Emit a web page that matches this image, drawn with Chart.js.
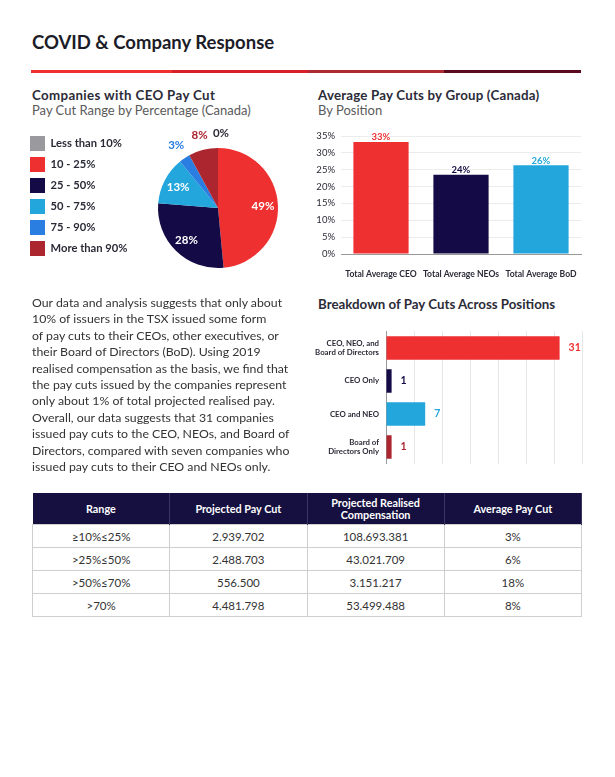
<!DOCTYPE html>
<html>
<head>
<meta charset="utf-8">
<script src="https://cdn.jsdelivr.net/npm/chart.js@4.4.0/dist/chart.umd.min.js"></script>
<style>
    body { margin: 0; background: #fff; font-family: Lato, sans-serif; color: #2b2b38; }
    .page { position: relative; width: 615px; height: 777px; overflow: hidden; }
    .abs { position: absolute; }
    h1 { position: absolute; left: 32px; top: 31px; margin: 0; font-size: 18.5px; font-weight: 700; color: #1c1c28; }
    .rule { position: absolute; left: 31px; top: 70px; width: 550px; height: 3px;
        background: linear-gradient(to right, #ee3030 0, #ee3030 141px, #d7202a 141px, #d7202a 277px, #ae2a32 277px, #ae2a32 413px, #5a0a1e 413px); }
    .head { font-size: 13.3px; font-weight: 700; margin: 0; color: #2b2b38; letter-spacing: 0.2px; line-height: 16px; }
    .sub { font-size: 13px; color: #5a5a5a; margin: 0; line-height: 15px; }
    .para { left: 32px; top: 295px; width: 275px; font-size: 12.3px; line-height: 16.4px; color: #333; }
    table { position: absolute; left: 32px; top: 493px; width: 550px; border-collapse: collapse; table-layout: fixed; }
    th { background: #15103f; color: #fff; font-size: 10.8px; font-weight: 700; height: 31px; padding: 0 4px; line-height: 12px; border-right: 1px solid #3a3560; }
    td { text-align: center; font-size: 11.5px; color: #333; height: 22px; padding: 0; border: 1px solid #cfcfcf; }
</style>
</head>
<body>
<div class="page">
    <h1>COVID &amp; Company Response</h1>
    <div class="rule"></div>

    <div class="abs" style="left:32px; top:87px;">
        <p class="head" style="letter-spacing:0.35px;">Companies with CEO Pay Cut</p>
        <p class="sub">Pay Cut Range by Percentage (Canada)</p>
    </div>
    <div class="abs" style="left:318px; top:87px;">
        <p class="head">Average Pay Cuts by Group (Canada)</p>
        <p class="sub">By Position</p>
    </div>
    <div class="abs" style="left:318px; top:296px;">
        <p class="head" style="letter-spacing:0;">Breakdown of Pay Cuts Across Positions</p>
    </div>

    <canvas id="pieChart" class="abs" style="left:24px; top:120px;" width="276" height="166"></canvas>
    <canvas id="groupChart" class="abs" style="left:300px; top:120px;" width="290" height="160"></canvas>
    <canvas id="breakdownChart" class="abs" style="left:300px; top:315px;" width="290" height="165"></canvas>

    <div class="abs para">
        Our data and analysis suggests that only about<br>
        10% of issuers in the TSX issued some form<br>
        of pay cuts to their CEOs, other executives, or<br>
        their Board of Directors (BoD). Using 2019<br>
        realised compensation as the basis, we find that<br>
        the pay cuts issued by the companies represent<br>
        only about 1% of total projected realised pay.<br>
        Overall, our data suggests that 31 companies<br>
        issued pay cuts to the CEO, NEOs, and Board of<br>
        Directors, compared with seven companies who<br>
        issued pay cuts to their CEO and NEOs only.
    </div>

    <table id="payTable"></table>
</div>

<script>
// pie
const rangeLabels = ['Less than 10%', '10 - 25%', '25 - 50%', '50 - 75%', '75 - 90%', 'More than 90%'];
const rangeShares = [0, 49, 28, 13, 3, 8];
const rangeColors = ['#9a9a9e', '#ee3030', '#140a46', '#22a6dc', '#2a7de1', '#ac2630'];

// group bars
const groupLabels = ['Total Average CEO', 'Total Average NEOs', 'Total Average BoD'];
const groupCuts = [33.2, 23.5, 26.3];
const groupColors = ['#ee3030', '#140a46', '#22a6dc'];
const groupTicks = [0, 5, 10, 15, 20, 25, 30, 35];

// breakdown bars
const positionLabels = [['CEO, NEO, and', 'Board of Directors'], 'CEO Only', 'CEO and NEO', ['Board of', 'Directors Only']];
const positionCounts = [31, 1, 7, 1];
const positionColors = ['#ee3030', '#140a46', '#22a6dc', '#ac2630'];

// table
const tableHeader = ['Range', 'Projected Pay Cut', 'Projected Realised<br>Compensation', 'Average Pay Cut'];
const tableRanges = ['≥10%≤25%', '>25%≤50%', '>50%≤70%', '>70%'];
const tablePayCut = ['2.939.702', '2.488.703', '556.500', '4.481.798'];
const tableRealised = ['108.693.381', '43.021.709', '3.151.217', '53.499.488'];
const tableAvgCut = ['3%', '6%', '18%', '8%'];

Chart.defaults.font.family = 'Lato, sans-serif';
Chart.defaults.animation = false;

// labels on pie slices
const pieLabels = {
    id: 'pieLabels',
    afterDatasetsDraw(chart) {
        const ctx = chart.ctx;
        const meta = chart.getDatasetMeta(0);
        ctx.save();
        ctx.font = 'bold 11.5px Lato, sans-serif';
        ctx.textAlign = 'center';
        ctx.textBaseline = 'middle';
        meta.data.forEach((arc, i) => {
            const val = rangeShares[i];
            const mid = (arc.startAngle + arc.endAngle) / 2;
            const inside = val >= 10;
            const r = inside ? arc.outerRadius * 0.75 : arc.outerRadius + 15;
            let x = arc.x + Math.cos(mid) * r;
            if (val === 0) x += 3;
            ctx.fillStyle = inside ? '#fff' : (val === 0 ? '#2b2b38' : rangeColors[i]);
            ctx.fillText(val + '%', x, arc.y + Math.sin(mid) * r);
        });
        ctx.restore();
    }
};

// wider legend so the pie sits right of it
const legendWidth = {
    id: 'legendWidth',
    beforeInit(chart) {
        const fit = chart.legend.fit;
        chart.legend.fit = function () {
            fit.bind(chart.legend)();
            this.width = 134;
        };
    }
};

new Chart(document.getElementById('pieChart'), {
    type: 'pie',
    data: {
        labels: rangeLabels,
        datasets: [{ data: rangeShares, backgroundColor: rangeColors, borderWidth: 0 }]
    },
    options: {
        responsive: false,
        layout: { padding: { top: 10, bottom: 0, left: 0, right: 22 } },
        plugins: {
            legend: {
                position: 'left',
                align: 'start',
                labels: { boxWidth: 15, boxHeight: 15, padding: 6, color: '#2b2b38', font: { size: 11.2, weight: 'bold' } }
            },
            tooltip: { enabled: false }
        }
    },
    plugins: [pieLabels, legendWidth]
});

// value labels for bars
const barValues = {
    id: 'barValues',
    afterDatasetsDraw(chart) {
        const ctx = chart.ctx;
        const horizontal = chart.options.indexAxis === 'y';
        const ds = chart.data.datasets[0];
        ctx.save();
        ctx.textBaseline = horizontal ? 'middle' : 'bottom';
        ctx.textAlign = horizontal ? 'left' : 'center';
        ctx.font = horizontal ? 'bold 10.5px Lato, sans-serif' : 'bold 9.5px Lato, sans-serif';
        chart.getDatasetMeta(0).data.forEach((bar, i) => {
            ctx.fillStyle = ds.backgroundColor[i];
            const v = ds.data[i];
            if (horizontal) ctx.fillText(v, bar.x + 9, bar.y);
            else ctx.fillText(Math.round(v) + '%', bar.x, bar.y);
        });
        ctx.restore();
    }
};

new Chart(document.getElementById('groupChart'), {
    type: 'bar',
    data: {
        labels: groupLabels,
        datasets: [{ data: groupCuts, backgroundColor: groupColors, barPercentage: 0.69, categoryPercentage: 1 }]
    },
    options: {
        responsive: false,
        layout: { padding: { top: 16, right: 9, bottom: 0, left: 0 } },
        plugins: { legend: { display: false }, tooltip: { enabled: false } },
        scales: {
            x: {
                grid: { display: false },
                border: { color: '#999' },
                ticks: { color: '#2b2b38', font: { size: 8.6, weight: 'bold' }, padding: 7, maxRotation: 0 },
                afterFit: s => { s.height = 26; }
            },
            y: {
                min: 0, max: 35,
                afterBuildTicks: s => { s.ticks = groupTicks.map(v => ({ value: v })); },
                grid: { color: '#ececec', drawTicks: false },
                border: { display: false },
                ticks: { color: '#2b2b38', font: { size: 9.5 }, padding: 6, callback: v => v + '%' },
                afterFit: s => { s.width = 41; }
            }
        }
    },
    plugins: [barValues]
});

new Chart(document.getElementById('breakdownChart'), {
    type: 'bar',
    data: {
        labels: positionLabels,
        datasets: [{ data: positionCounts, backgroundColor: positionColors, barPercentage: 0.71, categoryPercentage: 1 }]
    },
    options: {
        indexAxis: 'y',
        responsive: false,
        layout: { padding: { top: 8, right: 8, bottom: 10, left: 0 } },
        plugins: { legend: { display: false }, tooltip: { enabled: false } },
        scales: {
            x: {
                min: 0, max: 35,
                ticks: { display: false, stepSize: 5 },
                grid: { color: '#e6e6e6', drawTicks: false },
                border: { display: false },
                afterFit: s => { s.height = 0; }
            },
            y: {
                grid: { display: false, drawTicks: false },
                border: { color: '#999' },
                ticks: { color: '#2b2b38', font: { size: 7.8, weight: 'bold' }, padding: 7 },
                afterFit: s => { s.width = 86; }
            }
        }
    },
    plugins: [barValues]
});

// table
const table = document.getElementById('payTable');
table.innerHTML = '<tr>' + tableHeader.map(h => `<th>${h}</th>`).join('') + '</tr>' +
    tableRanges.map((r, i) => `<tr><td>${r}</td><td>${tablePayCut[i]}</td><td>${tableRealised[i]}</td><td>${tableAvgCut[i]}</td></tr>`).join('');
</script>
</body>
</html>
